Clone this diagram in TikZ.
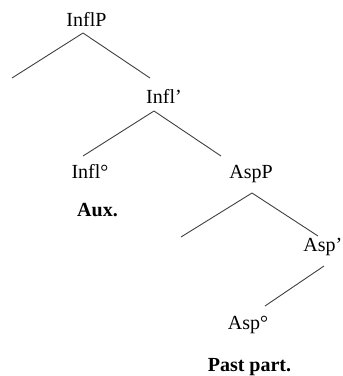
\documentclass[tikz,border=0pt]{standalone}
\usepackage{fontspec}
\setmainfont{Liberation Serif}
\begin{document}
\begin{tikzpicture}[x=1pt,y=-1pt,
  lbl/.style={inner sep=0pt,anchor=base,font=\fontsize{20}{24}\selectfont},
  blbl/.style={lbl,font=\fontsize{20}{24}\selectfont\bfseries},
  branch/.style={draw=black!75,line width=0.9pt}]
\useasboundingbox (0,0) rectangle (343,376);
% labels
\node[lbl] (InflP) at (86.5,26.7) {InflP};
\node[lbl] (InflBar) at (164,103) {Infl’};
\node[lbl] (InflHead) at (90,178) {Infl°};
\node[lbl] (AspP) at (251,178) {AspP};
\node[blbl] (Aux) at (97.5,216.7) {Aux.};
\node[lbl,anchor=base east] (AspBar) at (342.5,251.7) {Asp’};
\node[lbl] (AspHead) at (248,329) {Asp°};
\node[blbl] (PastPart) at (249.5,371.7) {Past part.};
% branch points
\coordinate (InflPtop) at (83,33);
\coordinate (SpecInfl) at (12,78);
\coordinate (InflBarIn) at (150,78);
\coordinate (InflBartop) at (154,111);
\coordinate (InflHeadIn) at (83,156);
\coordinate (AspPIn) at (221,156);
\coordinate (AspPtop) at (252,193);
\coordinate (SpecAsp) at (181,237);
\coordinate (AspBarIn) at (318,236);
\coordinate (AspBartop) at (324,266);
\coordinate (AspHeadIn) at (265,306);
% connectors
\draw[branch] (InflPtop) -- (SpecInfl);
\draw[branch] (InflPtop) -- (InflBarIn);
\draw[branch] (InflBartop) -- (InflHeadIn);
\draw[branch] (InflBartop) -- (AspPIn);
\draw[branch] (AspPtop) -- (SpecAsp);
\draw[branch] (AspPtop) -- (AspBarIn);
\draw[branch] (AspBartop) -- (AspHeadIn);
\end{tikzpicture}
\end{document}
